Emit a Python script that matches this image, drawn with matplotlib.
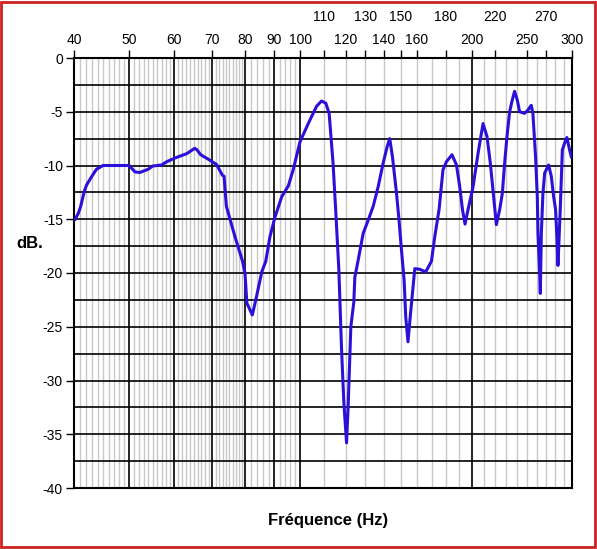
import numpy as np
import matplotlib.pyplot as plt
from matplotlib.patches import Rectangle
from matplotlib.transforms import blended_transform_factory

#_______________________________ DATOS ____________________________________
# frecuencias (Hz) y nivel (dB)
freq = [40.2, 40.7, 41.1, 41.7, 42.1, 43.0, 43.8, 45.0, 50.0, 51.2, 52.2, 54.0,
        55.0, 57.0, 58.2, 60.2, 63.1, 65.2, 65.8, 66.8, 68.8, 71.2, 72.9, 73.4,
        74.1, 76.7, 79.1, 79.9, 80.5, 82.3, 83.7, 85.5, 86.9, 88.4, 90.2, 92.7,
        95.2, 97.1, 99.8, 103.2, 106.7, 108.9, 110.8, 112.3, 114.1, 115.4, 116.8,
        118.1, 119.2, 120.5, 121.3, 122.6, 124.1, 124.6, 126.3, 128.9, 131.5,
        134.2, 136.9, 139.7, 142.0, 143.5, 145.1, 147.5, 149.0, 150.5, 152.1,
        153.1, 154.5, 156.1, 157.7, 158.8, 162.0, 166.0, 169.9, 172.2, 175.2,
        178.0, 180.5, 184.6, 188.0, 190.5, 192.6, 194.6, 197.0, 201.0, 205.1,
        209.3, 212.7, 215.6, 217.9, 220.9, 223.9, 226.3, 228.4, 230.6, 233.1,
        235.6, 237.8, 240.4, 242.7, 247.6, 250.9, 254.4, 256.1, 258.9, 260.7,
        261.4, 263.2, 263.9, 265.0, 266.7, 268.6, 272.9, 275.9, 278.5, 280.7,
        282.2, 283.4, 284.5, 286.2, 288.5, 291.2, 293.9, 297.1, 299.2]
db = [-15.0, -14.45, -13.8, -12.4, -11.8, -11.0, -10.35, -10.0, -10.0, -10.6,
      -10.65, -10.35, -10.05, -9.95, -9.65, -9.3, -8.9, -8.4, -8.55, -9.0, -9.4,
      -9.9, -10.9, -11.0, -13.8, -16.6, -18.9, -20.0, -22.8, -23.9, -22.2, -19.9,
      -18.9, -16.6, -14.8, -12.9, -11.9, -10.4, -7.8, -6.1, -4.5, -4.0, -4.2,
      -5.15, -9.8, -14.45, -19.7, -27.2, -32.1, -35.8, -32.3, -25.0, -22.7,
      -20.4, -18.8, -16.3, -15.1, -13.8, -12.0, -9.8, -8.25, -7.5, -9.2, -12.6,
      -15.1, -17.9, -20.65, -24.1, -26.4, -23.75, -21.3, -19.6, -19.65, -19.9,
      -18.9, -16.6, -14.1, -10.4, -9.65, -9.0, -9.95, -12.0, -14.1, -15.45,
      -14.1, -12.0, -8.9, -6.1, -7.3, -9.8, -12.3, -15.5, -14.1, -12.6, -9.8,
      -7.3, -5.0, -3.9, -3.1, -3.9, -5.0, -5.15, -4.85, -4.4, -5.15, -9.2,
      -12.9, -16.3, -20.0, -21.9, -16.3, -12.6, -10.7, -9.95, -11.0, -12.9,
      -14.1, -16.6, -19.3, -17.2, -13.8, -8.55, -7.9, -7.4, -8.55, -9.2]

ticks_bas = [40, 50, 60, 70, 80, 90, 100, 120, 140, 160, 200, 250, 300]
ticks_haut = [110, 130, 150, 180, 220, 270]
yticks = [0, -5, -10, -15, -20, -25, -30, -35, -40]

#_______________________________ FIGURE ____________________________________
plt.rcParams['font.family'] = ['Liberation Sans', 'DejaVu Sans']

fig = plt.figure(figsize=(5.97, 5.49), dpi=100)
ax = fig.add_axes([74/597, 61/549, 498/597, 430/549])
ax.set_xscale('log')
ax.set_xlim(40, 300)
ax.set_ylim(-40, 0)

# grille fine grise
fins = ([f for f in range(41, 80) if f % 10 != 0]
        + [f for f in range(82, 100, 2) if f % 10 != 0]
        + [f for f in range(110, 300, 10) if f % 100 != 0])
for f in fins:
    ax.axvline(f, color='#c8c8c8', lw=1, zorder=1)
# grille principale noire
for f in [50, 60, 70, 80, 90, 100, 200]:
    ax.axvline(f, color='black', lw=1.2, zorder=2)
for y in np.arange(-37.5, 0, 2.5):
    ax.axhline(y, color='black', lw=1.2, zorder=2)

ax.plot(freq, db, color='#2a10d8', lw=2.2, zorder=3)

# axes
ax.xaxis.tick_top()
ax.minorticks_off()
ax.set_xticks(ticks_bas + ticks_haut)
ax.set_xticklabels([str(t) for t in ticks_bas] + [''] * len(ticks_haut), fontsize=10)
ax.tick_params(axis='x', direction='out', length=6, width=1, pad=2)
ax.set_yticks(yticks)
ax.set_yticklabels([str(t) for t in yticks], fontsize=10)
ax.tick_params(axis='y', direction='out', length=6, width=1, pad=2)
for s in ax.spines.values():
    s.set_linewidth(1.5)

trans = blended_transform_factory(ax.transData, ax.transAxes)
for t in ticks_haut:
    ax.text(t, 1.078, str(t), transform=trans, ha='center', va='bottom', fontsize=10)

fig.text(30/597, 1 - 243/549, 'dB.', ha='center', va='center', fontsize=12, fontweight='bold')
fig.text(328/597, 1 - 521/549, 'Fréquence (Hz)', ha='center', va='center', fontsize=12, fontweight='bold')

# cadre rouge
fig.patches.append(Rectangle((0.002, 0.003), 0.994, 0.994, transform=fig.transFigure,
                             fill=False, edgecolor='#cc2222', lw=2))

plt.savefig('out.png', dpi=100)
